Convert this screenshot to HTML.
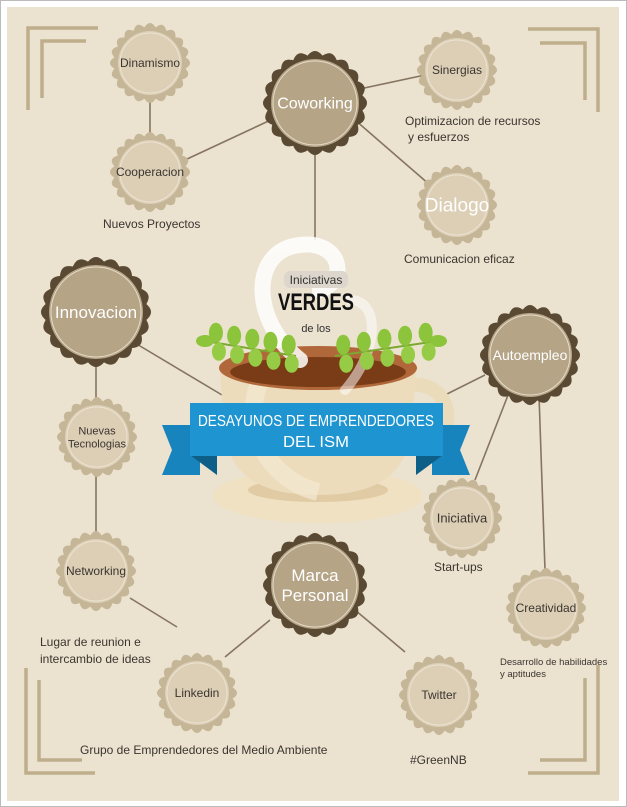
<!DOCTYPE html>
<html><head><meta charset="utf-8"><style>
html,body{margin:0;padding:0;background:#fff}
svg{display:block}
text{font-family:"Liberation Sans",sans-serif}
</style></head><body>
<svg id="s" width="627" height="807" viewBox="0 0 627 807" xmlns="http://www.w3.org/2000/svg">
<rect x="0" y="0" width="627" height="807" fill="#fff"/>
<rect x="0.5" y="0.5" width="626" height="806" fill="none" stroke="#bbb"/>
<rect x="7" y="7" width="612" height="794" fill="#ebe2cf"/>
<g stroke="#bfae8c" stroke-width="3.5" fill="none">
<path d="M98 28H28V110"/><path d="M86 41H42V98"/>
<path d="M528 29H598V112"/><path d="M540 43H585V100"/>
<path d="M26 668V773H95"/><path d="M39 680V760H82"/>
<path d="M598 665V773H528"/><path d="M585 678V760H540"/>
</g>
<g stroke="#857460" stroke-width="1.6">
<line x1="150" y1="80" x2="150" y2="160"/>
<line x1="185" y1="160" x2="275" y2="118"/>
<line x1="355" y1="90" x2="425" y2="75"/>
<line x1="355" y1="120" x2="430" y2="185"/>
<line x1="315" y1="140" x2="315" y2="240"/>
<line x1="130" y1="340" x2="222" y2="395"/>
<line x1="96" y1="350" x2="96" y2="405"/>
<line x1="96" y1="470" x2="96" y2="535"/>
<line x1="485" y1="375" x2="445" y2="395"/>
<line x1="510" y1="390" x2="475" y2="480"/>
<line x1="539" y1="395" x2="545" y2="570"/>
<line x1="270" y1="620" x2="225" y2="657"/>
<line x1="355" y1="610" x2="405" y2="652"/>
<line x1="130" y1="598" x2="177" y2="627"/>
</g>
<!-- cup -->
<ellipse cx="318" cy="496" rx="105" ry="27" fill="#efe1c2"/>
<ellipse cx="318" cy="490" rx="70" ry="12" fill="#e0cba5"/>
<path d="M410 385 C455 380 460 440 420 455" stroke="#eadbbb" stroke-width="14" fill="none"/>
<path d="M220 368 L416 368 L412 430 C405 480 370 495 318 495 C266 495 230 480 224 430 Z" fill="#ecdcbc"/>
<path d="M260 380 C240 430 270 480 318 492" stroke="#f3e8d2" stroke-width="18" fill="none" opacity="0.7"/>
<ellipse cx="318" cy="368" rx="99" ry="22" fill="#b0683a"/>
<ellipse cx="318" cy="372" rx="88" ry="15" fill="#7a3c16"/>
<!-- steam -->
<g fill="none" stroke="#fff" stroke-linecap="round" opacity="0.85">
<path d="M300 360 C250 320 250 250 300 245 C340 240 350 280 320 290" stroke-width="16"/>
<path d="M345 390 C380 350 380 300 350 300" stroke-width="10" opacity="0.6"/>
</g>
<g id="leaves"></g>
<!-- ribbon -->
<path d="M162 425H200V475H162L172 450Z" fill="#1784bd"/>
<path d="M470 425H432V475H470L460 450Z" fill="#1784bd"/>
<path d="M190 455L217 475V455Z" fill="#0d5f87"/>
<path d="M443 455L416 475V455Z" fill="#0d5f87"/>
<rect x="190" y="403" width="253" height="53" fill="#1e95d0"/>
<text x="316" y="426" text-anchor="middle" fill="#fff" font-size="16" textLength="236" lengthAdjust="spacingAndGlyphs">DESAYUNOS DE EMPRENDEDORES</text>
<text x="316" y="447" text-anchor="middle" fill="#fff" font-size="16" textLength="66" lengthAdjust="spacingAndGlyphs">DEL ISM</text>
<rect x="284" y="271" width="64" height="17" rx="6" fill="#ddd6cc"/>
<text x="316" y="284" text-anchor="middle" fill="#333" font-size="12">Iniciativas</text>
<text x="316" y="310" text-anchor="middle" fill="#111" font-size="24" font-weight="bold" textLength="76" lengthAdjust="spacingAndGlyphs">VERDES</text>
<text x="316" y="332" text-anchor="middle" fill="#333" font-size="11">de los</text>
<g id="nodes"></g>
<g fill="#3b3530" font-size="12">
<text x="103" y="228">Nuevos Proyectos</text>
<text x="405" y="125">Optimizacion de recursos</text>
<text x="408" y="141">y esfuerzos</text>
<text x="404" y="263">Comunicacion eficaz</text>
<text x="434" y="571">Start-ups</text>
<text x="40" y="646">Lugar de reunion e</text>
<text x="40" y="663">intercambio de ideas</text>
<text x="500" y="665" font-size="9.5">Desarrollo de habilidades</text>
<text x="500" y="677" font-size="9.5">y aptitudes</text>
<text x="80" y="754">Grupo de Emprendedores del Medio Ambiente</text>
<text x="410" y="764">#GreenNB</text>
</g>
</svg>
<script>
var NS="http://www.w3.org/2000/svg";
function el(p,t,a,txt){var e=document.createElementNS(NS,t);for(var k in a)e.setAttribute(k,a[k]);if(txt)e.textContent=txt;p.appendChild(e);return e;}
function scallop(cx,cy,r,n,b){var d="",M=n*12;for(var i=0;i<=M;i++){var a=i/M*Math.PI*2;var rr=r+b*(2*Math.abs(Math.cos(a*n/2))-1);d+=(i?"L":"M")+(cx+rr*Math.cos(a)).toFixed(2)+" "+(cy+rr*Math.sin(a)).toFixed(2);}return d+"Z";}
var N=[
["Dinamismo",150,63,40,0,12,1],["Cooperacion",150,172,40,0,12,1],["Coworking",315,103,52,1,16,0],
["Sinergias",457,70,40,0,12,1],["Dialogo",457,205,40,0,19,0],["Innovacion",96,312,55,1,17,0],
["Autoempleo",530,355,50,1,14,0],["Nuevas|Tecnologias",97,437,40,0,11,1],["Networking",96,571,40,0,12,1],
["Iniciativa",462,518,40,0,13,1],["Marca|Personal",315,585,52,1,17,0],["Creatividad",546,608,40,0,12,1],
["Linkedin",197,693,40,0,12,1],["Twitter",439,695,40,0,12,1]];
var g=document.getElementById("nodes");
N.forEach(function(n){var dark=n[4],r=n[3];
el(g,"path",{d:scallop(n[1],n[2],r-2,20,2),fill:dark?"#5a4a33":"#c6b698"});
el(g,"circle",{cx:n[1],cy:n[2],r:r-8,fill:dark?"#b5a486":"#dccfb6"});
el(g,"circle",{cx:n[1],cy:n[2],r:r-10,fill:"none",stroke:dark?"#e6dccb":"#ece3d2","stroke-width":1});
var lines=n[0].split("|");var fs=n[5];
lines.forEach(function(l,i){var y=n[2]+fs*0.35+(i-(lines.length-1)/2)*fs*1.2;
el(g,"text",{x:n[1],y:y,"text-anchor":"middle","font-size":fs,fill:n[6]?"#3b3530":"#fff"},l);});
});
var L=document.getElementById("leaves");
function branch(x0,y0,x1,y1){el(L,"line",{x1:x0,y1:y0,x2:x1,y2:y1,stroke:"#7aa92e","stroke-width":2});
el(L,"ellipse",{cx:x0,cy:y0,rx:9,ry:6,fill:"#8cc43c"});
for(var i=0;i<5;i++){var t=i/5+0.12,x=x0+(x1-x0)*t,y=y0+(y1-y0)*t;
el(L,"ellipse",{cx:x,cy:y-10,rx:7,ry:10,fill:"#8cc43c"});el(L,"ellipse",{cx:x+3,cy:y+9,rx:7,ry:9,fill:"#96cc45"});}}
branch(205,341,296,356);branch(438,341,335,356);
</script>
</body></html>
